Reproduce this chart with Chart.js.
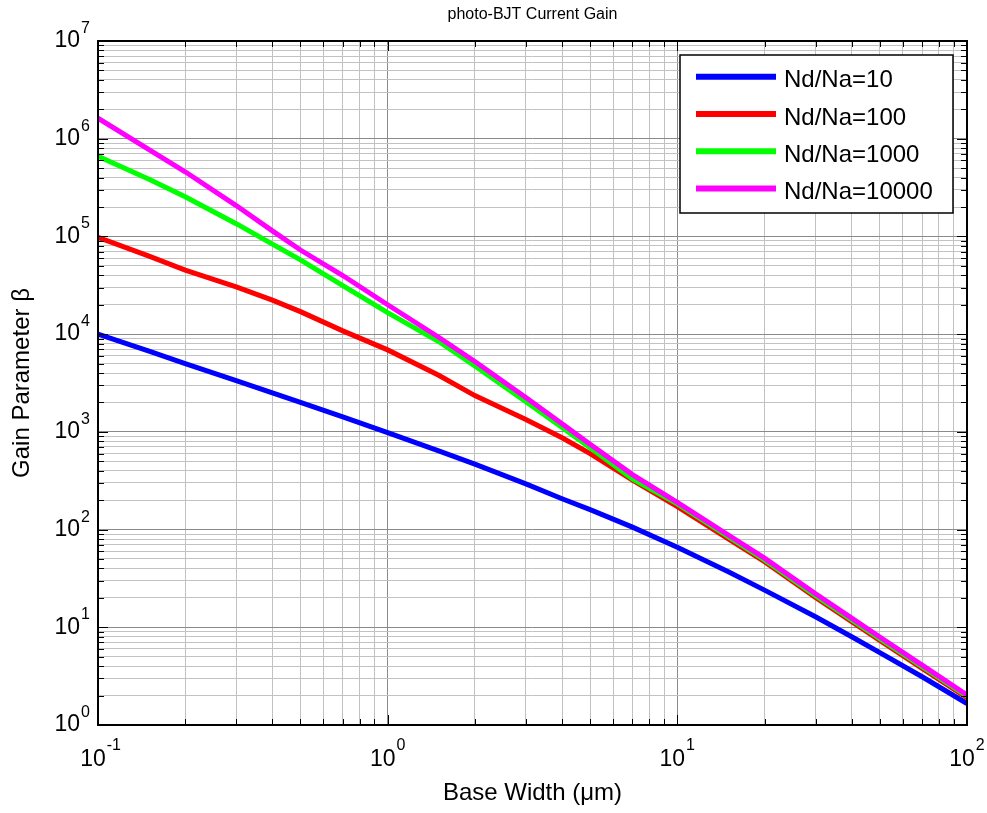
<!DOCTYPE html>
<html>
<head>
<meta charset="utf-8">
<title>photo-BJT Current Gain</title>
<script src="https://cdn.jsdelivr.net/npm/chart.js@4.4.1/dist/chart.umd.min.js"></script>
<style>
  html, body { margin: 0; padding: 0; background: #fff; }
  #wrap { width: 987px; height: 813px; position: relative; }
</style>
</head>
<body>
<div id="wrap"><canvas id="gainChart"></canvas></div>
<script>
// Base width in micrometres (x values)
const baseWidth = [0.1, 0.15, 0.2, 0.3, 0.4, 0.5, 0.7, 1, 1.5, 2, 3, 4, 5, 7, 10, 15, 20, 30, 40, 50, 70, 100];

// Gain parameter beta for each doping ratio
const gain10 = [10000, 6700, 5000, 3350, 2500, 2000, 1420, 980, 640, 468, 294, 207, 160, 106, 66, 37, 24, 12.8, 8.0, 5.5, 3.12, 1.66];
const gain100 = [98000, 62800, 45300, 30500, 22300, 17000, 10800, 6900, 3800, 2350, 1340, 870, 600, 320, 172, 80.5, 47, 20.2, 11.4, 7.35, 3.8, 1.9];
const gain1000 = [660000, 384000, 255000, 135000, 83400, 57500, 31300, 16600, 8400, 4720, 2040, 1110, 690, 330, 183, 84.5, 49, 21.1, 11.9, 7.65, 3.95, 1.97];
const gain10000 = [1620000, 775000, 459000, 207000, 114000, 72600, 39800, 20000, 9300, 5250, 2250, 1210, 745, 365, 190, 88, 51, 22, 12.4, 7.96, 4.1, 2.03];

const seriesLabels = ['Nd/Na=10', 'Nd/Na=100', 'Nd/Na=1000', 'Nd/Na=10000'];
const seriesColors = ['#0000ff', '#ff0000', '#00ff00', '#ff00ff'];

// Tick decades (exponents of ten) and minor multipliers
const xDecades = [-1, 0, 1, 2];
const yDecades = [0, 1, 2, 3, 4, 5, 6, 7];
const minorSteps = [2, 3, 4, 5, 6, 7, 8, 9];

const fontFamily = '"Liberation Sans", Arial, Helvetica, sans-serif';

function buildLogTicks(decades) {
    const ticks = [];
    decades.forEach((e, i) => {
        ticks.push({ value: Math.pow(10, e), major: true });
        if (i < decades.length - 1) {
            minorSteps.forEach(m => ticks.push({ value: m * Math.pow(10, e), major: false }));
        }
    });
    return ticks;
}

function isDecade(v) {
    const e = Math.log10(v);
    return Math.abs(e - Math.round(e)) < 1e-9;
}

// Inside tick marks on all four sides, the box, and the tick exponents
const matlabAxes = {
    id: 'matlabAxes',
    afterDatasetsDraw(chart) {
        const { ctx, chartArea: a, scales: { x, y } } = chart;
        ctx.save();
        ctx.strokeStyle = '#000';
        ctx.lineWidth = 1;
        ctx.beginPath();
        x.ticks.forEach(t => {
            const px = Math.round(x.getPixelForValue(t.value)) + 0.5;
            const len = t.major ? 10 : 6;
            ctx.moveTo(px, a.bottom); ctx.lineTo(px, a.bottom - len);
            ctx.moveTo(px, a.top); ctx.lineTo(px, a.top + len);
        });
        y.ticks.forEach(t => {
            const py = Math.round(y.getPixelForValue(t.value)) + 0.5;
            const len = t.major ? 10 : 6;
            ctx.moveTo(a.left, py); ctx.lineTo(a.left + len, py);
            ctx.moveTo(a.right, py); ctx.lineTo(a.right - len, py);
        });
        ctx.stroke();

        ctx.lineWidth = 2;
        ctx.strokeRect(a.left, a.top, a.right - a.left, a.bottom - a.top);

        // exponents next to the "10" tick labels
        ctx.font = '23px ' + fontFamily;
        const w10 = ctx.measureText('10').width;
        ctx.fillStyle = '#000';
        ctx.textAlign = 'left';
        ctx.textBaseline = 'alphabetic';
        ctx.font = '16px ' + fontFamily;
        x.ticks.forEach(t => {
            if (!t.major) return;
            const px = x.getPixelForValue(t.value);
            const exp = String(Math.round(Math.log10(t.value)));
            ctx.fillText(exp, px - 5 + w10 / 2 + 1, a.bottom + 25);
        });
        y.ticks.forEach(t => {
            if (!t.major) return;
            const py = y.getPixelForValue(t.value);
            const exp = String(Math.round(Math.log10(t.value)));
            ctx.fillText(exp, a.left - 17, py - 8);
        });
        ctx.restore();
    }
};

// Boxed legend in the upper right corner of the plot
const boxLegend = {
    id: 'boxLegend',
    afterDraw(chart) {
        const { ctx, chartArea: a } = chart;
        const w = 273, h = 158;
        const left = a.right - 14 - w, top = a.top + 14;
        ctx.save();
        ctx.fillStyle = '#fff';
        ctx.fillRect(left, top, w, h);
        ctx.strokeStyle = '#000';
        ctx.lineWidth = 1.5;
        ctx.strokeRect(left, top, w, h);
        chart.data.datasets.forEach((ds, i) => {
            const yy = top + 21.7 + i * 37.3;
            ctx.strokeStyle = ds.borderColor;
            ctx.lineWidth = 6;
            ctx.beginPath();
            ctx.moveTo(left + 16, yy);
            ctx.lineTo(left + 96, yy);
            ctx.stroke();
            ctx.fillStyle = '#000';
            ctx.font = '24px ' + fontFamily;
            ctx.textAlign = 'left';
            ctx.textBaseline = 'middle';
            ctx.fillText(ds.label, left + 104, yy + 4);
        });
        ctx.restore();
    }
};

const allGains = [gain10, gain100, gain1000, gain10000];

const ctx = document.getElementById('gainChart').getContext('2d');
const gainChart = new Chart(ctx, {
    type: 'line',
    data: {
        datasets: allGains.map((g, i) => ({
            label: seriesLabels[i],
            data: baseWidth.map((xv, k) => ({ x: xv, y: g[k] })),
            borderColor: seriesColors[i],
            backgroundColor: seriesColors[i],
            borderWidth: 5,
            pointRadius: 0,
            tension: 0,
            fill: false,
            order: allGains.length - i
        }))
    },
    options: {
        responsive: true,
        maintainAspectRatio: false,
        animation: false,
        devicePixelRatio: 1,
        layout: { padding: { left: 0, right: 20, top: 0, bottom: 0 } },
        plugins: {
            legend: { display: false },
            tooltip: { enabled: false },
            title: {
                display: true,
                fullSize: false,
                text: 'photo-BJT Current Gain',
                color: '#000',
                font: { family: fontFamily, size: 16, weight: 'normal', lineHeight: 1.2 },
                padding: { top: 5, bottom: 16.8 }
            }
        },
        scales: {
            x: {
                type: 'logarithmic',
                min: 0.1,
                max: 100,
                afterBuildTicks: axis => { axis.ticks = buildLogTicks(xDecades); },
                afterFit: axis => { axis.height = 88; axis.paddingLeft = 0; axis.paddingRight = 0; },
                border: { display: false },
                grid: {
                    drawTicks: false,
                    lineWidth: 1,
                    color: c => (c.tick && c.tick.major) ? '#8a8a8a' : '#c2c2c2'
                },
                ticks: {
                    autoSkip: false,
                    maxRotation: 0,
                    padding: 21,
                    labelOffset: -5,
                    color: '#000',
                    font: { family: fontFamily, size: 23, lineHeight: 1.2 },
                    callback: v => isDecade(v) ? '10' : ''
                },
                title: {
                    display: true,
                    text: 'Base Width (\u03bcm)',
                    color: '#000',
                    font: { family: fontFamily, size: 24, lineHeight: 1.2 },
                    padding: { top: 0, bottom: 5 }
                }
            },
            y: {
                type: 'logarithmic',
                min: 1,
                max: 1e7,
                afterBuildTicks: axis => { axis.ticks = buildLogTicks(yDecades); },
                afterFit: axis => { axis.width = 98; axis.paddingTop = 0; axis.paddingBottom = 0; },
                border: { display: false },
                grid: {
                    drawTicks: false,
                    lineWidth: 1,
                    color: c => (c.tick && c.tick.major) ? '#8a8a8a' : '#c2c2c2'
                },
                ticks: {
                    autoSkip: false,
                    padding: 18,
                    color: '#000',
                    font: { family: fontFamily, size: 23, lineHeight: 1.2 },
                    callback: v => isDecade(v) ? '10' : ''
                },
                title: {
                    display: true,
                    text: 'Gain Parameter \u03b2',
                    color: '#000',
                    font: { family: fontFamily, size: 24, lineHeight: 1.2 },
                    padding: { top: 7.6, bottom: 0 }
                }
            }
        }
    },
    plugins: [matlabAxes, boxLegend]
});
</script>
</body>
</html>
